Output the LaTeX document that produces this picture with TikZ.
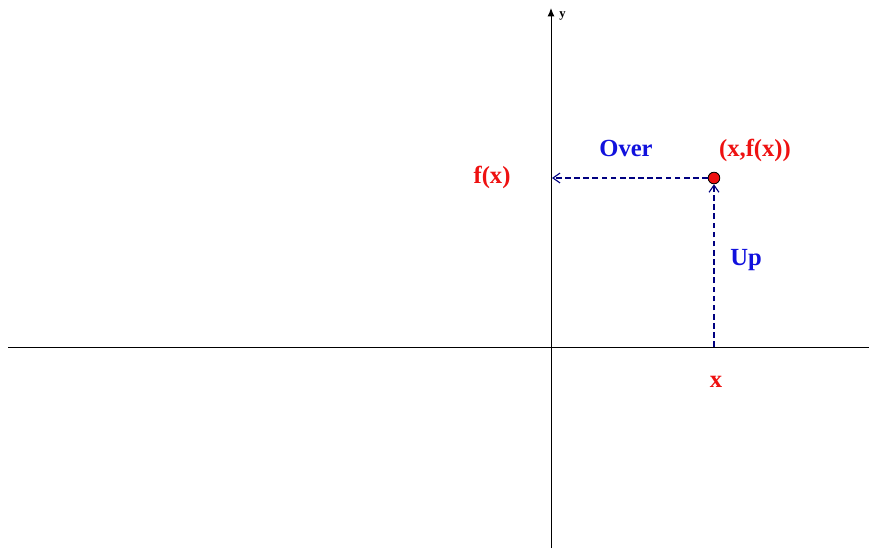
\documentclass[tikz,border=0pt]{standalone}
\usepackage{fontspec}
\setmainfont{Liberation Serif}
\usetikzlibrary{arrows.meta, positioning}
\definecolor{cRed}{HTML}{EE1111}
\definecolor{cBlue}{HTML}{1111DD}
\definecolor{cNavy}{HTML}{000080}
\tikzset{
  axis/.style={line width=0.7pt, black},
  guide/.style={-{Straight Barb[length=5pt, width=7pt]}, cNavy, line width=0.8pt,
    dash pattern=on 4pt off 2.5pt},
  redlabel/.style={font=\fontsize{17.5}{20}\selectfont\bfseries, text=cRed, inner sep=0pt},
  bluelabel/.style={font=\fontsize{17.5}{20}\selectfont\bfseries, text=cBlue, inner sep=0pt},
  dot/.style={circle, draw=black, fill=cRed, line width=0.6pt, minimum size=0.29cm, inner sep=0pt},
}
\begin{document}
\begin{tikzpicture}[x=0.025cm, y=-0.025cm]
  \useasboundingbox (0,0) rectangle (869,548);

  % axes
  \coordinate (xL) at (8,347);
  \coordinate (xR) at (869,347);
  \coordinate (yB) at (551,548);
  \coordinate (yT) at (551,8);
  \draw[axis] (xL) -- (xR);
  \draw[axis, -{Latex[length=6pt, width=5pt]}] (yB) -- (yT);
  \node[font=\fontsize{9}{10}\selectfont\bfseries, anchor=west, inner sep=0pt]
    (ylab) at (559,16) {y};

  % point and guides
  \coordinate (X) at (714,347);
  \coordinate (F) at (552,178);
  \node[dot] (P) at (714,178) {};
  \draw[guide] (X) -- (P.south);
  \draw[guide] (P.west) -- (F);

  % labels
  \node[bluelabel] (over) at (626,148) {Over};
  \node[redlabel] (pt) at (755,150) {(x,f(x))};
  \node[redlabel] (fx) at (492,177) {f(x)};
  \node[bluelabel] (up) at (746,260) {Up};
  \node[redlabel] (xlab) at (716,382) {x};

\end{tikzpicture}
\end{document}
